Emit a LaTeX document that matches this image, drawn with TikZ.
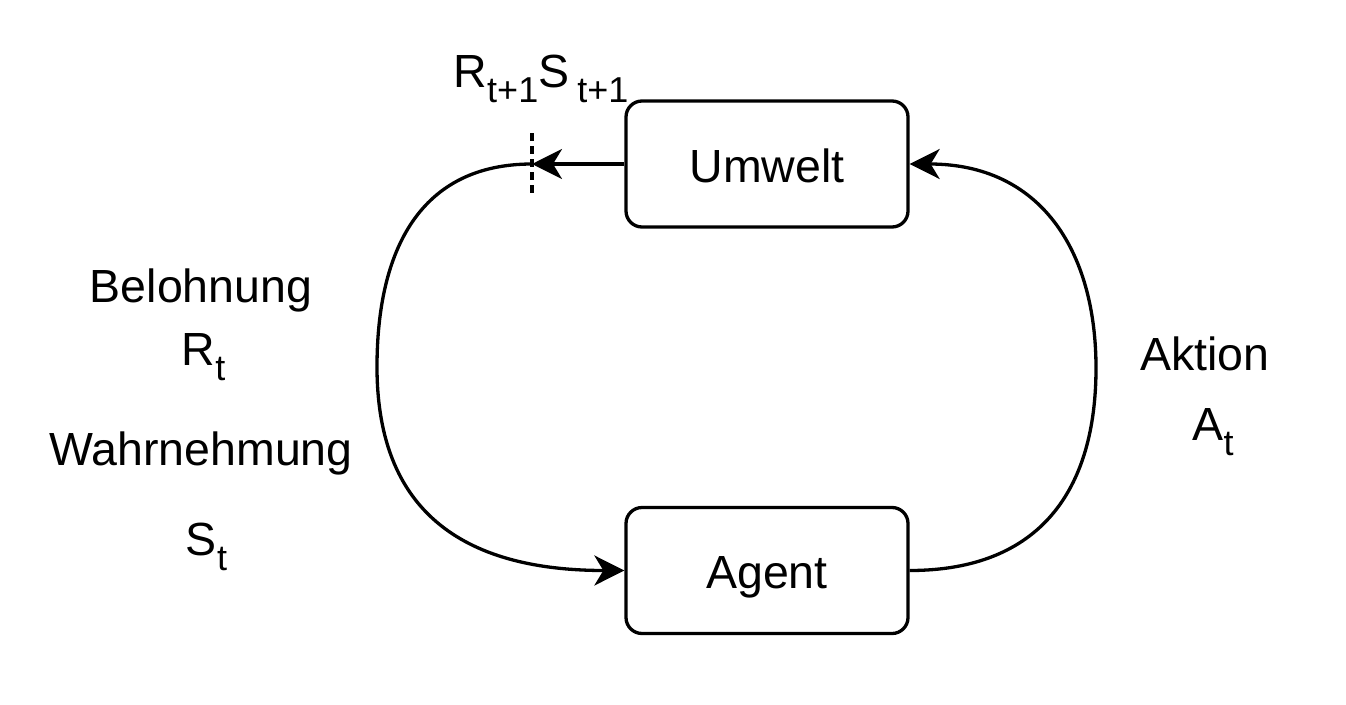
\documentclass[tikz,border=0pt]{standalone}
\usepackage{fontspec}
\setmainfont{Liberation Sans}
\usetikzlibrary{arrows.meta}
\newcommand\subx[1]{\raisebox{-15pt}{\fontsize{36}{36}\selectfont #1}}
\tikzset{
  lbl/.style={font=\fontsize{46.5}{54}\selectfont, inner sep=0pt, anchor=base},
  box/.style={draw, line width=3.3pt, rounded corners=16pt, minimum width=282pt,
              minimum height=126pt, inner sep=0pt, text height=36pt, text depth=0pt,
              font=\fontsize{46.5}{54}\selectfont},
  conn/.style={line width=3.3pt, -{Stealth[length=30pt, width=30pt, inset=9pt]}}
}
\begin{document}
\begin{tikzpicture}[x=1pt, y=-1pt]
\useasboundingbox (0,0) rectangle (1346,704);
\node[box] (ue) at (767,164) {Umwelt};
\node[box] (ag) at (767,570.5) {Agent};
\coordinate (d) at (532,164);
% top arrow
\draw[conn] (ue.west) -- (d);
\draw[line width=3.3pt, dash pattern=on 8pt off 5pt] ([yshift=31pt]d) -- ([yshift=-31pt]d);
% left curve
\draw[conn] (d) .. controls (420,164) and (377,250) .. (377,367)
  .. controls (377,500) and (450,570.5) .. (ag.west);
% right curve
\draw[conn] (ag.east) .. controls (1040,570.5) and (1096,490) .. (1096,368)
  .. controls (1096,250) and (1040,164) .. (ue.east);
% labels
\node[lbl] (rs) at (541,87) {R\subx{t+1}S\hspace{8pt}\subx{t+1}};
\node[lbl] (bel) at (201,302) {Belohnung};
\node[lbl] (rt) at (203.5,365) {R\subx{t}};
\node[lbl] (wahr) at (201,465) {Wahrnehmung};
\node[lbl] (st) at (206.5,555) {S\subx{t}};
\node[lbl] (akt) at (1205,370) {Aktion};
\node[lbl] (at) at (1213,440) {A\subx{t}};
\end{tikzpicture}
\end{document}
